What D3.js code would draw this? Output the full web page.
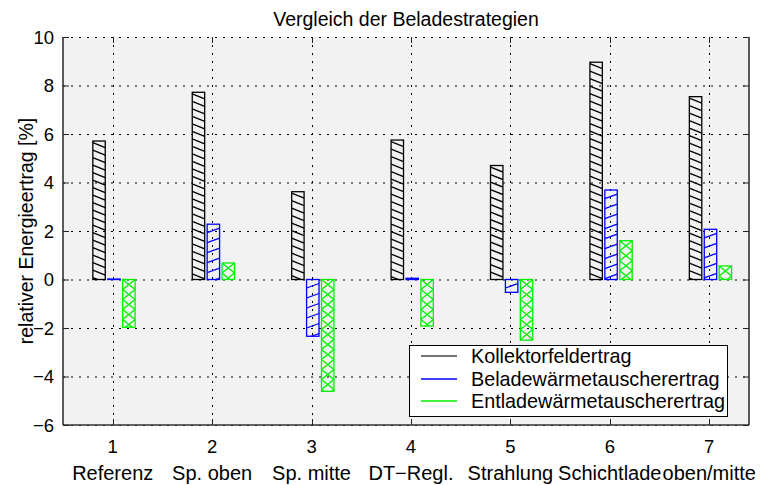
<!DOCTYPE html>
<html>
<head>
<meta charset="utf-8">
<script src="https://cdn.jsdelivr.net/npm/d3@7"></script>
<style>
  body { margin: 0; background: #fff; }
  svg { font-family: "Liberation Sans", Arial, sans-serif; }
</style>
</head>
<body>
<svg width="764" height="485"></svg>
<script>
// values
const positions = [1, 2, 3, 4, 5, 6, 7];
const labels = ["Referenz", "Sp. oben", "Sp. mitte", "DT\u2212Regl.", "Strahlung", "Schichtlade", "oben/mitte"];
const kollektor = [5.71, 7.72, 3.62, 5.75, 4.70, 8.96, 7.54];
const belade = [0.02, 2.28, -2.34, 0.05, -0.53, 3.69, 2.07];
const entlade = [-1.97, 0.68, -4.61, -1.92, -2.50, 1.60, 0.56];
const seriesNames = ["Kollektorfeldertrag", "Beladewärmetauscherertrag", "Entladewärmetauscherertrag"];
const yTicks = [-6, -4, -2, 0, 2, 4, 6, 8, 10];

const svg = d3.select("svg"),
      pLeft = 63, pRight = 749, pTop = 37, pBottom = 425;

const x = d3.scaleLinear().domain([0.5, 7.4]).range([pLeft, pRight]);
const y = d3.scaleLinear().domain([-6, 10]).range([pBottom, pTop]);

// plot background
svg.append("rect")
  .attr("x", pLeft).attr("y", pTop)
  .attr("width", pRight - pLeft).attr("height", pBottom - pTop)
  .attr("fill", "#f2f2f2");

// dotted grid
const grid = svg.append("g").attr("stroke", "#000").attr("stroke-width", 1).attr("stroke-dasharray", "2,6");
grid.selectAll("line.h").data(yTicks).enter().append("line")
  .attr("x1", pLeft).attr("x2", pRight)
  .attr("y1", d => y(d) + 0.5).attr("y2", d => y(d) + 0.5);
grid.selectAll("line.v").data(positions).enter().append("line")
  .attr("x1", d => Math.round(x(d)) + 0.5).attr("x2", d => Math.round(x(d)) + 0.5)
  .attr("y1", pTop).attr("y2", pBottom);

// bars with hatching
const series = [
  { values: kollektor, color: "#000", offset: -0.2, kind: "back" },
  { values: belade, color: "#0000ff", offset: -0.05, kind: "fwd" },
  { values: entlade, color: "#00f000", offset: 0.1, kind: "cross" }
];
const barW = 0.125;
const defs = svg.append("defs");
const bars = svg.append("g");
let clipId = 0;

function hatch(g, x0, y0, w, h, kind, color) {
  const id = "clip" + (clipId++);
  defs.append("clipPath").attr("id", id)
    .append("rect").attr("x", x0).attr("y", y0).attr("width", w).attr("height", h);
  const hg = g.append("g").attr("clip-path", `url(#${id})`)
    .attr("stroke", color).attr("stroke-width", 1.3).attr("fill", "none");
  const segs = [];
  if (kind === "back") {
    for (let yy = y0 - 6; yy < y0 + h + 6; yy += 7.5) segs.push([x0, yy, x0 + w, yy + 5]);
  } else if (kind === "fwd") {
    for (let yy = y0 - 6; yy < y0 + h + 6; yy += 10) segs.push([x0, yy + 4.5, x0 + w, yy]);
  } else {
    for (let yy = y0 - 10; yy < y0 + h + 10; yy += 10) {
      segs.push([x0, yy, x0 + w, yy + 10]);
      segs.push([x0, yy + 10, x0 + w, yy]);
    }
  }
  hg.selectAll("line").data(segs).enter().append("line")
    .attr("x1", d => d[0]).attr("y1", d => d[1])
    .attr("x2", d => d[2]).attr("y2", d => d[3]);
}

series.forEach(s => {
  s.values.forEach((v, i) => {
    const x0 = x(positions[i] + s.offset);
    const w = x(positions[i] + s.offset + barW) - x0;
    const y0 = y(Math.max(0, v)), h = Math.abs(y(v) - y(0));
    const g = bars.append("g");
    hatch(g, x0, y0, w, h, s.kind, s.color);
    g.append("rect")
      .attr("x", x0).attr("y", y0).attr("width", w).attr("height", h)
      .attr("fill", "none").attr("stroke", s.color).attr("stroke-width", 1.3);
  });
});

// axes frame and ticks
const frame = svg.append("g").attr("stroke", "#333").attr("stroke-width", 1.6);
frame.append("line").attr("x1", pLeft).attr("x2", pLeft).attr("y1", pTop).attr("y2", pBottom);
frame.append("line").attr("x1", pLeft).attr("x2", pRight).attr("y1", pBottom).attr("y2", pBottom);
frame.append("line").attr("x1", pRight).attr("x2", pRight).attr("y1", pTop).attr("y2", pBottom);

const ticks = svg.append("g").attr("stroke", "#222").attr("stroke-width", 1);
positions.forEach(p => {
  const px = Math.round(x(p)) + 0.5;
  ticks.append("line").attr("x1", px).attr("x2", px).attr("y1", pBottom).attr("y2", pBottom - 6);
  ticks.append("line").attr("x1", px).attr("x2", px).attr("y1", pTop).attr("y2", pTop + 6);
});
yTicks.forEach(t => {
  const py = y(t) + 0.5;
  ticks.append("line").attr("x1", pLeft).attr("x2", pLeft + 6).attr("y1", py).attr("y2", py);
  ticks.append("line").attr("x1", pRight).attr("x2", pRight - 6).attr("y1", py).attr("y2", py);
});

// tick labels
const fmt = d3.format("d");
svg.append("g").selectAll("text").data(yTicks).enter().append("text")
  .attr("x", pLeft - 9).attr("y", d => y(d)).attr("dy", "0.36em")
  .attr("text-anchor", "end").attr("font-size", 18.5).attr("fill", "#000")
  .text(d => fmt(d));
svg.append("g").selectAll("text").data(positions).enter().append("text")
  .attr("x", d => x(d)).attr("y", 453)
  .attr("text-anchor", "middle").attr("font-size", 18.5).attr("fill", "#000")
  .text(d => d);
svg.append("g").selectAll("text").data(labels).enter().append("text")
  .attr("x", (d, i) => x(positions[i])).attr("y", 480)
  .attr("text-anchor", "middle").attr("font-size", 20).attr("fill", "#000")
  .text(d => d);

// title and y label
svg.append("text")
  .attr("x", (pLeft + pRight) / 2).attr("y", 26)
  .attr("text-anchor", "middle").attr("font-size", 19.5).attr("fill", "#000")
  .text("Vergleich der Beladestrategien");
svg.append("text")
  .attr("transform", `translate(33,${(pTop + pBottom) / 2}) rotate(-90)`)
  .attr("text-anchor", "middle").attr("font-size", 19.5).attr("fill", "#000")
  .text("relativer Energieertrag [%]");

// legend
const lg = svg.append("g");
lg.append("rect").attr("x", 409.5).attr("y", 345.5).attr("width", 318).attr("height", 71)
  .attr("fill", "#fff").attr("stroke", "#000").attr("stroke-width", 1);
const rowY = [356, 379, 401];
seriesNames.forEach((name, i) => {
  lg.append("line").attr("x1", 421).attr("x2", 457).attr("y1", rowY[i]).attr("y2", rowY[i])
    .attr("stroke", i === 0 ? "#444" : series[i].color).attr("stroke-width", 1.3);
  lg.append("text").attr("x", 471).attr("y", rowY[i]).attr("dy", "0.36em")
    .attr("font-size", 19.8).attr("fill", "#000").text(name);
});
</script>
</body>
</html>
